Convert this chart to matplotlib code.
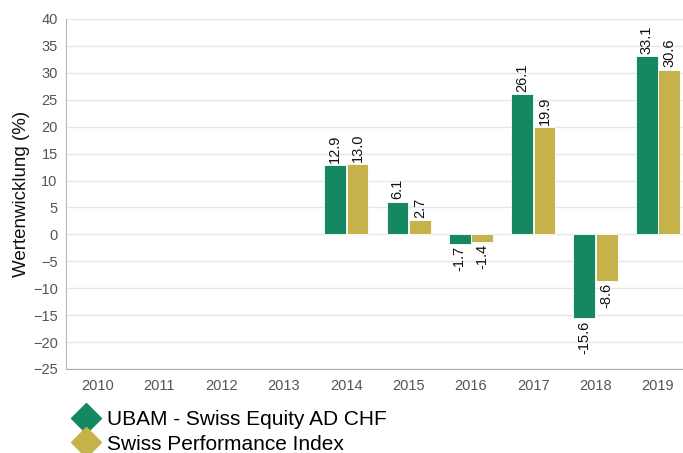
import matplotlib
matplotlib.use("Agg")
import matplotlib.pyplot as plt
import numpy as np
from matplotlib.lines import Line2D

plt.rcParams['font.family'] = ['Liberation Sans', 'DejaVu Sans']

years = ["2010", "2011", "2012", "2013", "2014", "2015", "2016", "2017", "2018", "2019"]
fund = [None, None, None, None, 12.9, 6.1, -1.7, 26.1, -15.6, 33.1]
index = [None, None, None, None, 13.0, 2.7, -1.4, 19.9, -8.6, 30.6]
series_names = ["UBAM - Swiss Equity AD CHF", "Swiss Performance Index"]
colors = ["#168763", "#C6B24A"]

fig = plt.figure(figsize=(6.83, 4.53), dpi=100)
ax = fig.add_axes([66 / 683, 1 - 369 / 453, 623 / 683, 350 / 453])

x = np.arange(len(years))
w = 0.35
for i, (vals, col) in enumerate(zip([fund, index], colors)):
    off = (i - 0.5) * (w + 0.01)
    for xi, v in zip(x, vals):
        if v is None:
            continue
        ax.bar(xi + off, v, width=w, color=col, edgecolor="white", linewidth=0.6, zorder=3)
        if v >= 0:
            ax.text(xi + off, v + 0.4, f"{v:.1f}", rotation=90, ha="center", va="bottom",
                    fontsize=10.5, color="#111111", zorder=4)
        else:
            ax.text(xi + off, v - 0.4, f"{v:.1f}", rotation=90, ha="center", va="top",
                    fontsize=10.5, color="#111111", zorder=4)

ax.set_xlim(-0.5, len(years) - 0.5)
ax.set_ylim(-25, 40)
ax.set_yticks(np.arange(-25, 41, 5))
ax.set_xticks(x)
ax.set_xticklabels(years)
ax.tick_params(axis="both", length=0, labelsize=10.5, labelcolor="#555555")
ax.tick_params(axis="y", pad=6)
ax.tick_params(axis="x", pad=7)
ax.grid(axis="y", color="#e6e6e6", linewidth=1, zorder=0)
ax.set_axisbelow(True)
for s in ["top", "right"]:
    ax.spines[s].set_visible(False)
ax.spines["left"].set_color("#bbbbbb")
ax.spines["bottom"].set_color("#aaaaaa")
ax.set_ylabel("Wertenwicklung (%)", fontsize=13.5, color="#111111", labelpad=2)

handles = [Line2D([0], [0], marker="D", linestyle="none", markersize=15,
                  markerfacecolor=c, markeredgecolor=c) for c in colors]
fig.legend(handles, series_names, loc="upper left", bbox_to_anchor=(0.108, 1 - 410 / 453),
           frameon=False, fontsize=15, handletextpad=0.4, labelspacing=0.27,
           borderaxespad=0, borderpad=0, handlelength=1.2)

fig.savefig("out.png", dpi=100)
